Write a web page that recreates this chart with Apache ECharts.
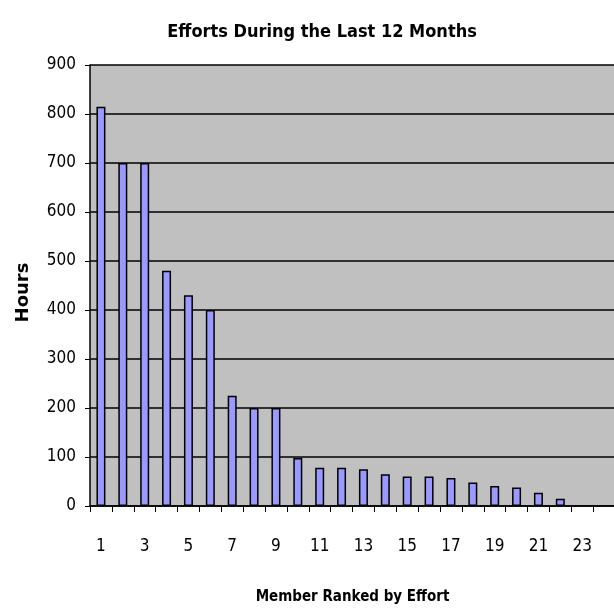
<!DOCTYPE html>
<html>
<head>
<meta charset="utf-8">
<script src="https://cdn.jsdelivr.net/npm/echarts@6/dist/echarts.min.js"></script>
<style>html,body{margin:0;padding:0;background:#fff;}#c{width:614px;height:609px;}</style>
</head>
<body>
<div id="c"></div>
<script>
var categories = ['1','2','3','4','5','6','7','8','9','10','11','12','13','14','15','16','17','18','19','20','21','22','23','24'];
var hours = [815, 700, 700, 480, 430, 400, 225, 200, 200, 98, 78, 78, 75, 65, 60, 60, 57, 48, 41, 38, 27, 15, null, null];
var yTicks = [0, 100, 200, 300, 400, 500, 600, 700, 800, 900];

var FONT = "'Liberation Sans Narrow', 'DejaVu Sans Condensed', 'Liberation Sans', Arial, sans-serif";
var chart = echarts.init(document.getElementById('c'));
chart.setOption({
  animation: false,
  backgroundColor: '#ffffff',
  title: {
    text: 'Efforts During the Last 12 Months',
    left: 317, textAlign: 'center', top: 18,
    textStyle: { fontFamily: FONT, fontWeight: 'bold', fontSize: 18, color: '#000' }
  },
  grid: { left: 90, top: 65, bottom: 103, right: -1, show: true, backgroundColor: '#c0c0c0', borderWidth: 0, outerBoundsMode: 'none', containLabel: false },
  xAxis: {
    type: 'category',
    data: categories,
    name: 'Member Ranked by Effort',
    nameLocation: 'middle',
    nameGap: 84,
    nameTextStyle: { fontFamily: FONT, fontWeight: 'bold', fontSize: 15, color: '#000' },
    axisLine: { lineStyle: { color: '#000', width: 1.5 } },
    axisTick: { show: true, interval: 0, length: 6, lineStyle: { color: '#000', width: 1 } },
    axisLabel: { interval: 1, margin: 32, fontFamily: FONT, fontSize: 17, color: '#000' },
    splitLine: { show: false }
  },
  yAxis: {
    type: 'value',
    min: yTicks[0], max: yTicks[yTicks.length - 1], interval: 100,
    name: 'Hours',
    nameLocation: 'middle',
    nameRotate: 90,
    nameGap: 58,
    nameTextStyle: { fontFamily: "'DejaVu Sans', sans-serif", fontWeight: 'bold', fontSize: 18, color: '#000', padding: [0, 14, 0, 0] },
    axisLine: { show: true, lineStyle: { color: '#000', width: 1.5 } },
    axisTick: { show: true, length: 5, lineStyle: { color: '#000' } },
    axisLabel: { margin: 14, fontFamily: FONT, fontSize: 17, color: '#000' },
    splitLine: { show: true, lineStyle: { color: '#000', width: 1.5 } }
  },
  series: [{
    type: 'bar',
    data: hours,
    barWidth: 9,
    itemStyle: { color: '#9999ff', borderColor: '#000', borderWidth: 1.5 }
  }]
});
</script>
</body>
</html>
